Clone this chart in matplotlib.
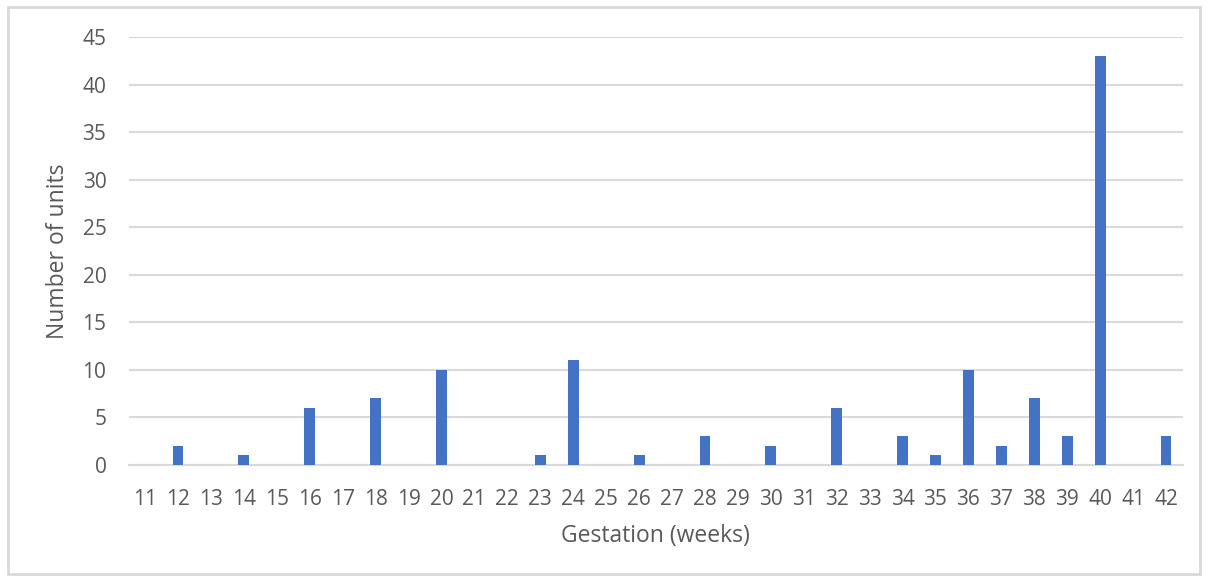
import matplotlib
matplotlib.use("Agg")
import matplotlib.pyplot as plt
from matplotlib.patches import Rectangle

weeks = list(range(11, 43))
units = [0, 2, 0, 1, 0, 6, 0, 7, 0, 10, 0, 0, 1, 11, 0, 1, 0, 3, 0, 2,
         0, 6, 0, 3, 1, 10, 2, 7, 3, 43, 0, 3]
yticks = [0, 5, 10, 15, 20, 25, 30, 35, 40, 45]

plt.rcParams['font.family'] = ['Open Sans', 'DejaVu Sans']
txt = '#595959'

fig = plt.figure(figsize=(12.09, 5.81), dpi=100)
W, H = 1209, 581
ax = fig.add_axes([128.6 / W, (H - 465) / H, (1182.5 - 128.6) / W, (465 - 37) / H])

x = list(range(len(weeks)))
ax.bar(x, units, width=0.33, color='#4472C4', zorder=3)
ax.set_xlim(-0.5, len(weeks) - 0.5)
ax.set_ylim(0, 45)
ax.set_xticks(x)
ax.set_xticklabels([str(w) for w in weeks])
ax.set_yticks(yticks)
ax.grid(axis='y', color='#D9D9D9', linewidth=1.5, zorder=0)
for s in ['top', 'right', 'left']:
    ax.spines[s].set_visible(False)
ax.spines['bottom'].set_color('#D9D9D9')
ax.spines['bottom'].set_linewidth(1.5)
ax.tick_params(axis='both', length=0, labelsize=15, colors=txt)
ax.tick_params(axis='x', pad=17)
ax.tick_params(axis='y', pad=16)
ax.set_xlabel('Gestation (weeks)', fontsize=16.5, color=txt, labelpad=10)
ax.set_ylabel('Number of units', fontsize=16.5, color=txt, labelpad=9)

fig.patches.append(Rectangle((8 / W, 7 / H), (1200 - 8) / W, (574 - 7) / H,
                             transform=fig.transFigure, fill=False,
                             edgecolor='#D9D9D9', linewidth=2))
fig.savefig('out.png', dpi=100)
